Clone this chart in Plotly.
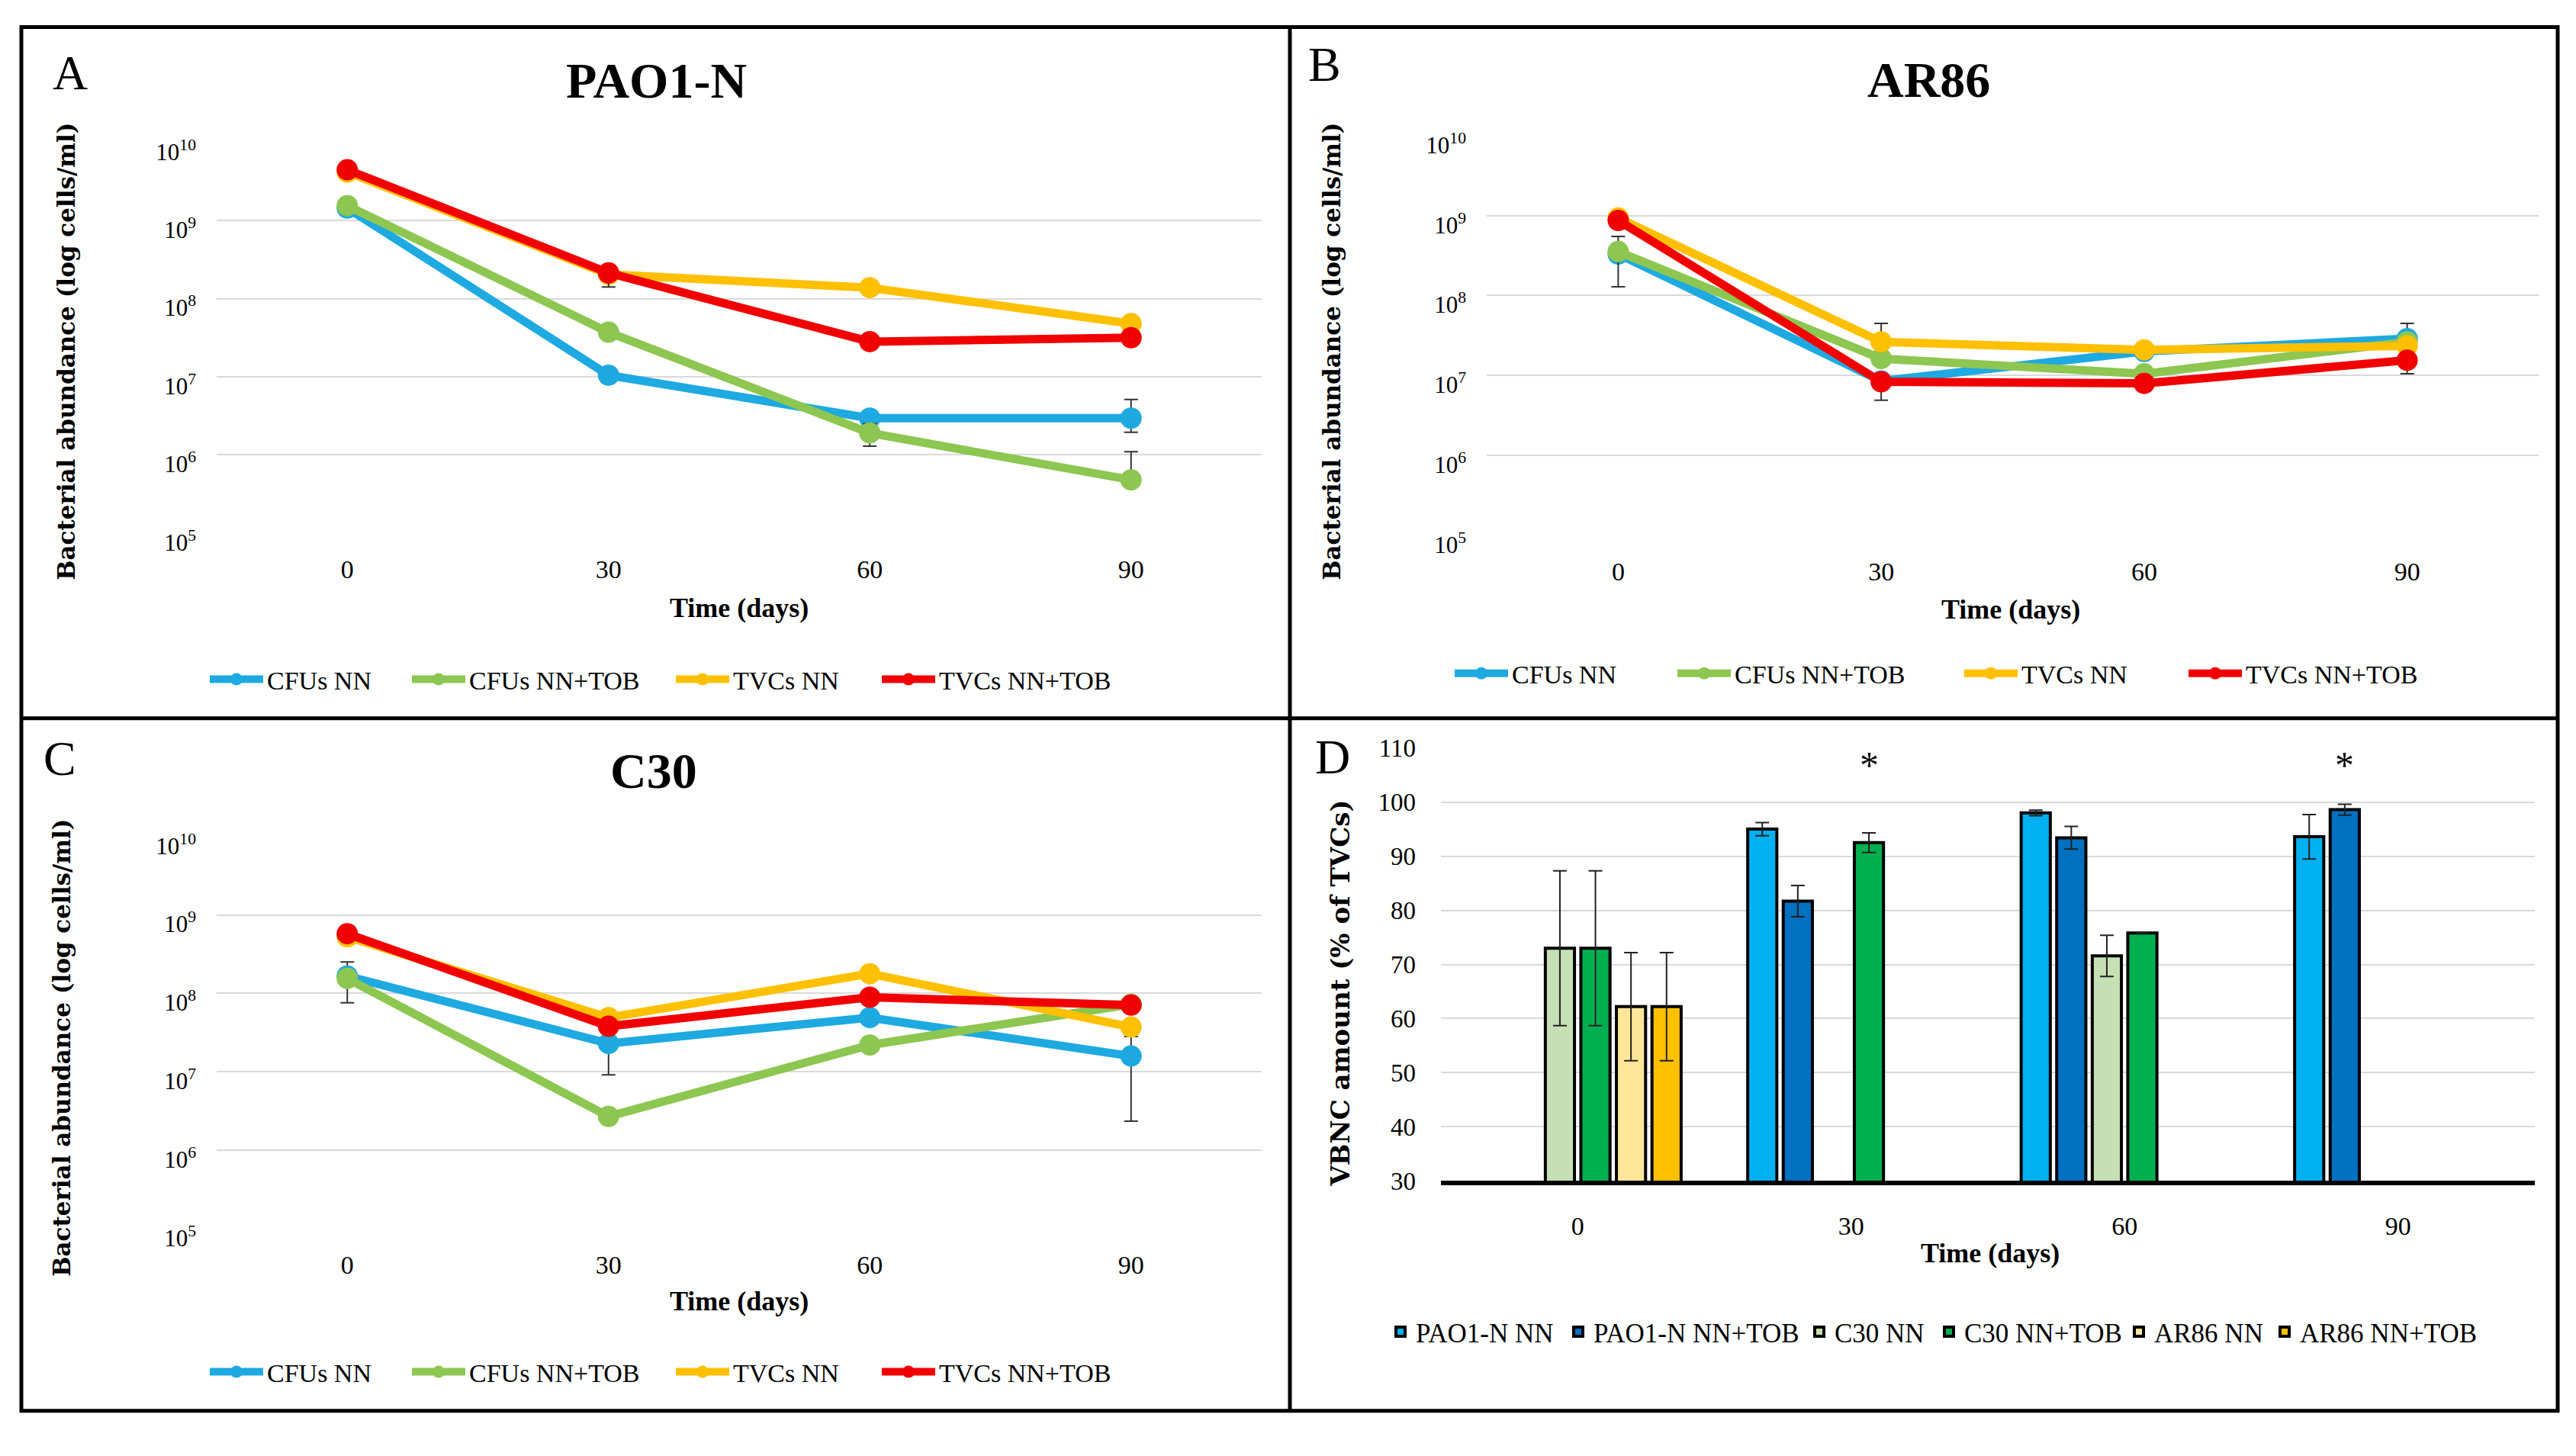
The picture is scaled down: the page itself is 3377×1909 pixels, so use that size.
import plotly.graph_objects as go

W, H = 3377, 1909

# ---------------- data ----------------
days = ["0", "30", "60", "90"]
line_series = ["CFUs NN", "CFUs NN+TOB", "TVCs NN", "TVCs NN+TOB"]
line_colors = ["#1EA9E1", "#8DC650", "#FFC000", "#F00000"]

# log10(cells/ml)
pao1_cfu_nn = [9.16, 7.02, 6.47, 6.47]
pao1_cfu_tob = [9.19, 7.57, 6.28, 5.68]
pao1_tvc_nn = [9.62, 8.31, 8.14, 7.68]
pao1_tvc_tob = [9.65, 8.33, 7.45, 7.50]
# error bar limits (log10), None = no bar visible
pao1_cfu_nn_hi = [None, None, None, 6.71]
pao1_cfu_nn_lo = [None, None, None, 6.29]
pao1_cfu_tob_hi = [None, None, 6.40, 6.04]
pao1_cfu_tob_lo = [None, None, 6.11, None]
pao1_tvc_tob_lo = [None, 8.15, None, None]

ar86_cfu_nn = [8.52, 6.93, 7.30, 7.46]
ar86_cfu_tob = [8.55, 7.21, 7.02, 7.42]
ar86_tvc_nn = [8.97, 7.42, 7.32, 7.37]
ar86_tvc_tob = [8.94, 6.92, 6.90, 7.19]
ar86_cfu_nn_hi = [None, None, None, 7.65]
ar86_cfu_tob_hi = [8.74, None, None, None]
ar86_cfu_tob_lo = [8.11, None, None, None]
ar86_tvc_nn_hi = [None, 7.65, None, None]
ar86_tvc_tob_lo = [None, 6.69, None, 7.02]

c30_cfu_nn = [8.22, 7.36, 7.69, 7.20]
c30_cfu_tob = [8.19, 6.43, 7.34, 7.86]
c30_tvc_nn = [8.72, 7.69, 8.25, 7.57]
c30_tvc_tob = [8.76, 7.58, 7.95, 7.85]
c30_cfu_nn_hi = [8.40, 7.77, None, 7.45]
c30_cfu_nn_lo = [7.88, 6.96, None, 6.37]

bar_series = ["PAO1-N NN", "PAO1-N NN+TOB", "C30 NN", "C30 NN+TOB", "AR86 NN", "AR86 NN+TOB"]
bar_colors = ["#00B0F0", "#0070C0", "#C5E0B4", "#00B050", "#FFE699", "#FFC000"]
vbnc_pao1_nn = [None, 95.0, 98.0, 93.6]
vbnc_pao1_tob = [None, 81.7, 93.4, 98.6]
vbnc_c30_nn = [73.0, None, 71.6, None]
vbnc_c30_tob = [73.0, 92.5, 75.8, None]
vbnc_ar86_nn = [62.2, None, None, None]
vbnc_ar86_tob = [62.2, None, None, None]
vbnc_pao1_nn_err = [None, 1.2, 0.5, 4.1]
vbnc_pao1_tob_err = [None, 2.9, 2.1, 1.0]
vbnc_c30_nn_err = [14.3, None, 3.8, None]
vbnc_c30_tob_err = [14.3, 1.8, None, None]
vbnc_ar86_nn_err = [10.0, None, None, None]
vbnc_ar86_tob_err = [10.0, None, None, None]
star_marks = [("30", "C30 NN+TOB"), ("90", "PAO1-N NN+TOB")]

SERIF = "Liberation Serif"
WIDE = "DejaVu Serif"

# legend entry text starts (px) per panel, and legend row centre
leg_text_x = {
    "A": [350, 615, 961, 1231],
    "B": [1982, 2274, 2650, 2944],
    "C": [350, 615, 961, 1231],
    "D": [1856, 2089, 2405, 2575, 2824, 3015],
}
leg_row_y = {"A": 896, "B": 888, "C": 1827, "D": 1773}

fig = go.Figure()


def px_x(p):
    return p / W


def px_y(p):
    return 1 - p / H


def err(vals, hi, lo):
    up, dn = [], []
    for i, v in enumerate(vals):
        y = 10 ** v
        h = hi[i] if hi else None
        l = lo[i] if lo else None
        up.append(10 ** h - y if h is not None else 0)
        dn.append(y - 10 ** l if l is not None else 0)
    return up, dn


legends = {}
counter = [0]


def new_legend(cx_text, cy, size, iw):
    counter[0] += 1
    key = "legend" if counter[0] == 1 else "legend%d" % counter[0]
    legends[key] = dict(orientation="h", x=px_x(cx_text - iw - 10), xanchor="left", y=px_y(cy),
                        yanchor="middle", font=dict(family=SERIF, size=size, color="black"),
                        bgcolor="rgba(0,0,0,0)", borderwidth=0, itemwidth=iw,
                        itemclick=False, itemdoubleclick=False)
    return key


panels = [
    ("A", "x", "y", [pao1_cfu_nn, pao1_cfu_tob, pao1_tvc_nn, pao1_tvc_tob],
     [(pao1_cfu_nn_hi, pao1_cfu_nn_lo), (pao1_cfu_tob_hi, pao1_cfu_tob_lo), (None, None), (None, pao1_tvc_tob_lo)]),
    ("B", "x2", "y2", [ar86_cfu_nn, ar86_cfu_tob, ar86_tvc_nn, ar86_tvc_tob],
     [(ar86_cfu_nn_hi, None), (ar86_cfu_tob_hi, ar86_cfu_tob_lo), (ar86_tvc_nn_hi, None), (None, ar86_tvc_tob_lo)]),
    ("C", "x3", "y3", [c30_cfu_nn, c30_cfu_tob, c30_tvc_nn, c30_tvc_tob],
     [(c30_cfu_nn_hi, c30_cfu_nn_lo), (None, None), (None, None), (None, None)]),
]

for pid, xa, ya, series, errs in panels:
    for j, (name, col, vals, (hi, lo)) in enumerate(zip(line_series, line_colors, series, errs)):
        up, dn = err(vals, hi, lo)
        lg = new_legend(leg_text_x[pid][j], leg_row_y[pid], 34, 70)
        fig.add_trace(go.Scatter(
            x=days, y=[10 ** v for v in vals], name=name, mode="lines+markers",
            line=dict(color=col, width=11), marker=dict(color=col, size=28),
            error_y=dict(type="data", array=up, arrayminus=dn, symmetric=False,
                         color="#333333", thickness=2, width=9, visible=True),
            xaxis=xa, yaxis=ya, legend=lg))

bar_vals = [vbnc_pao1_nn, vbnc_pao1_tob, vbnc_c30_nn, vbnc_c30_tob, vbnc_ar86_nn, vbnc_ar86_tob]
bar_errs = [vbnc_pao1_nn_err, vbnc_pao1_tob_err, vbnc_c30_nn_err, vbnc_c30_tob_err, vbnc_ar86_nn_err, vbnc_ar86_tob_err]
for j, (name, col, vals, e) in enumerate(zip(bar_series, bar_colors, bar_vals, bar_errs)):
    lg = new_legend(leg_text_x["D"][j], leg_row_y["D"], 35, 30)
    fig.add_trace(go.Bar(
        x=days, y=vals, name=name, marker=dict(color=col, line=dict(color="black", width=4)),
        error_y=dict(type="data", array=[v if v is not None else 0 for v in e],
                     color="#222222", thickness=2, width=9, visible=True),
        xaxis="x4", yaxis="y4", legend=lg))

BARGAP = 0.22
nb = len(bar_series)
slot = (1 - BARGAP) / nb
for day, ser in star_marks:
    g = days.index(day)
    k = bar_series.index(ser)
    fig.add_annotation(x=g - (1 - BARGAP) / 2 + slot * (k + 0.5), y=106.8, xref="x4", yref="y4",
                       text="*", showarrow=False, font=dict(family=SERIF, size=50, color="black"))

grid = "#D9D9D9"
log_ticks = [10 ** k for k in range(5, 11)]
log_text = ["10<sup>%d</sup>" % k for k in range(5, 11)]


def xaxis(dom, anchor):
    return dict(domain=[px_x(dom[0]), px_x(dom[1])], anchor=anchor, type="category",
                categoryorder="array", categoryarray=days, range=[-0.5, 3.5],
                showgrid=False, zeroline=False,
                showline=False, ticks="", tickfont=dict(family=SERIF, size=34, color="black"),
                ticklabelstandoff=24, fixedrange=True)


def ylog(dom, anchor):
    return dict(domain=[px_y(dom[1]), px_y(dom[0])], anchor=anchor, type="log", range=[5, 10],
                tickvals=log_ticks, ticktext=log_text, showgrid=True, gridcolor=grid, gridwidth=2,
                zeroline=False, showline=False, ticks="",
                tickfont=dict(family=SERIF, size=31, color="black"), ticklabelstandoff=26,
                ticklabelshift=12, fixedrange=True)


fig.update_layout(
    width=W, height=H, margin=dict(l=0, r=0, t=0, b=0),
    paper_bgcolor="white", plot_bgcolor="white",
    barmode="group", bargap=BARGAP, bargroupgap=0.18,
    xaxis=xaxis((284, 1654), "y"), yaxis=ylog((174, 699), "x"),
    xaxis2=xaxis((1949, 3328), "y2"), yaxis2=ylog((165, 702), "x2"),
    xaxis3=xaxis((284, 1654), "y3"), yaxis3=ylog((1107, 1634), "x3"),
    xaxis4=xaxis((1889, 3323), "y4"),
    yaxis4=dict(domain=[px_y(1570), px_y(988)], anchor="x4", range=[30, 110], dtick=10,
                showgrid=True, gridcolor=grid, gridwidth=2, zeroline=False, showline=False,
                ticks="", tickfont=dict(family=SERIF, size=33, color="black"), ticklabelstandoff=32,
                fixedrange=True),
    showlegend=True,
)
fig.update_layout(xaxis4=dict(showline=True, linecolor="black", linewidth=6))
fig.update_layout(**legends)

# panel texts
texts = [
    ("A", 92, 80, 64), ("B", 1736, 69, 64), ("C", 78, 1002, 64), ("D", 1747, 1000, 64),
    ("<b>PAO1-N</b>", 860, 91, 66), ("<b>AR86</b>", 2528, 90, 66), ("<b>C30</b>", 857, 1019, 66),
    ("<b>Time (days)</b>", 969, 800, 36), ("<b>Time (days)</b>", 2636, 802, 36),
    ("<b>Time (days)</b>", 969, 1732, 36), ("<b>Time (days)</b>", 2609, 1667, 36),
]
for t, x, y, s in texts:
    fig.add_annotation(x=px_x(x), y=px_y(y), xref="paper", yref="paper", text=t, showarrow=False,
                       xanchor="center", yanchor="middle", font=dict(family=SERIF, size=s, color="black"))

ytitles = [
    ("<b>Bacterial abundance (log cells/ml)</b>", 87, 455, 31),
    ("<b>Bacterial abundance (log cells/ml)</b>", 1746, 455, 31),
    ("<b>Bacterial abundance (log cells/ml)</b>", 81, 1391, 31),
    ("<b>VBNC amount (% of TVCs)</b>", 1757, 1318, 34),
]
for t, x, y, s in ytitles:
    fig.add_annotation(x=px_x(x), y=px_y(y), xref="paper", yref="paper", text=t, showarrow=False,
                       textangle=-90, xanchor="center", yanchor="middle",
                       font=dict(family=WIDE, size=s, color="black"))

# panel frames
frame = dict(color="black", width=5)
fig.add_shape(type="rect", xref="paper", yref="paper", x0=px_x(28), x1=px_x(3353), y0=px_y(1879), y1=px_y(19), line=frame)
fig.add_shape(type="line", xref="paper", yref="paper", x0=px_x(1691), x1=px_x(1691), y0=px_y(1879), y1=px_y(19), line=frame)
fig.add_shape(type="line", xref="paper", yref="paper", x0=px_x(28), x1=px_x(3353), y0=px_y(948), y1=px_y(948), line=frame)

fig.write_html("out.html", config={"displayModeBar": False}, post_script=(
    "document.body.style.margin='0px';document.body.style.overflow='hidden';"
    "document.documentElement.style.overflow='hidden';"))
